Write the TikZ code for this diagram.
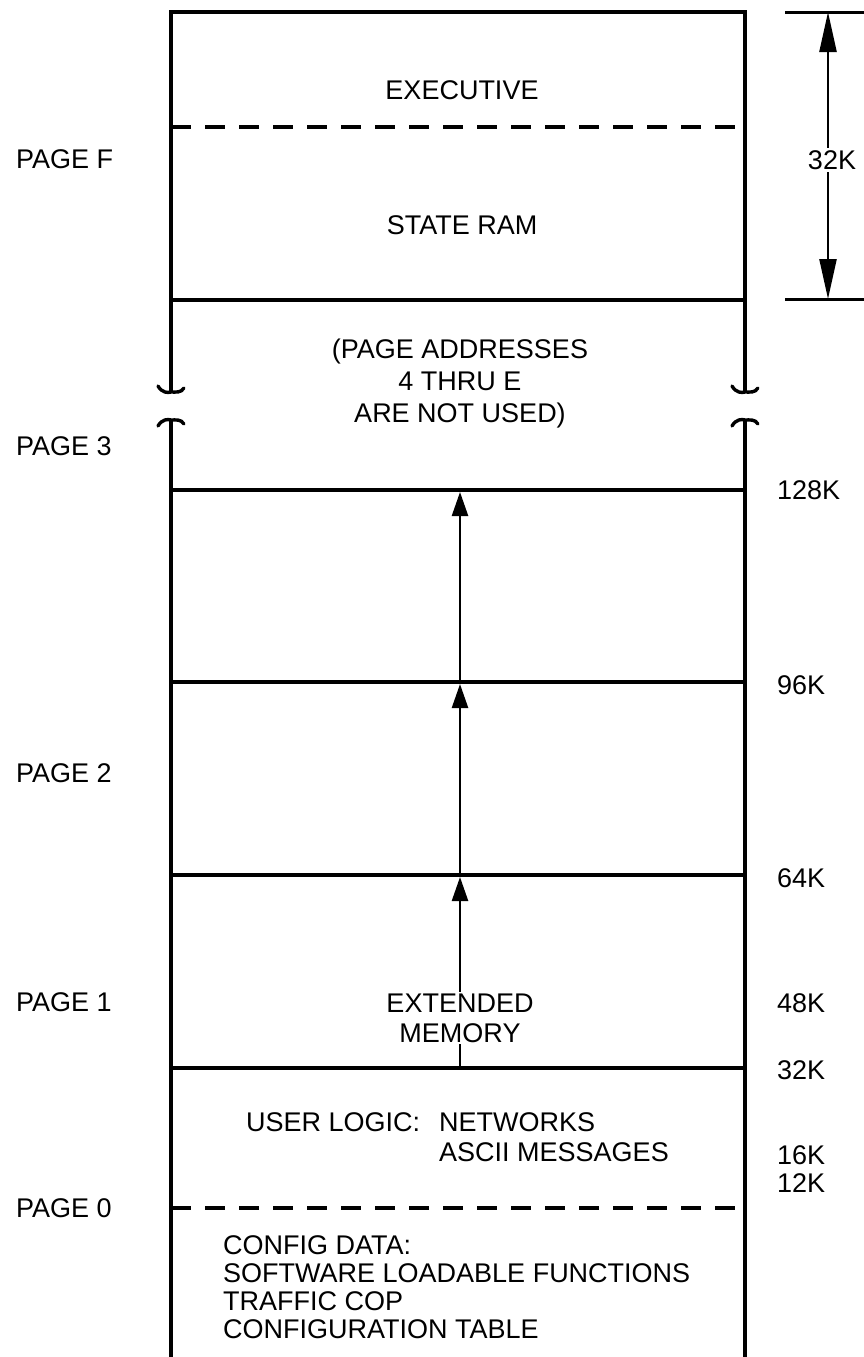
\documentclass[tikz,border=0pt]{standalone}
\usepackage{fontspec}
\setmainfont{Liberation Sans}
\usetikzlibrary{arrows.meta}
\begin{document}
\begin{tikzpicture}[x=1pt,y=-1pt,
  txt/.style={font=\fontsize{27}{32}\selectfont, inner sep=1pt},
  wall/.style={line width=4pt},
  sep/.style={line width=3.6pt},
  dsep/.style={line width=3.2pt, dash pattern=on 20pt off 14pt},
  tick/.style={line width=3pt},
  uparrow/.style={line width=2.4pt, -{Triangle[length=24pt,width=16pt]}},
  dim/.style={line width=2.4pt, {Triangle[length=40pt,width=17pt]}-{Triangle[length=40pt,width=17pt]}},
  brk/.style={line width=3.4pt, line cap=round}]
\useasboundingbox (0,0) rectangle (864,1357);
% coordinates
\coordinate (TL) at (171,12);
\coordinate (TR) at (745,12);
\coordinate (LA) at (171,392);
\coordinate (LB) at (171,420);
\coordinate (RA) at (745,392);
\coordinate (RB) at (745,420);
\coordinate (BL) at (171,1357);
\coordinate (BR) at (745,1357);
% outer walls
\draw[wall] (LA) -- (TL) -- (TR) -- (RA);
\draw[wall] (LB) -- (BL);
\draw[wall] (RB) -- (BR);
% break marks (upper: ends raised, lower: ends lowered)
\foreach \p in {LA,RA}{
  \draw[brk] ([xshift=-13pt,yshift=6pt]\p) .. controls ([xshift=-9pt,yshift=-1pt]\p) and ([xshift=-3pt,yshift=-1pt]\p) .. (\p) .. controls ([xshift=5pt,yshift=0pt]\p) and ([xshift=10pt,yshift=-1pt]\p) .. ([xshift=13pt,yshift=4pt]\p);
}
\foreach \p in {LB,RB}{
  \draw[brk] ([xshift=-13pt,yshift=-6pt]\p) .. controls ([xshift=-9pt,yshift=1pt]\p) and ([xshift=-3pt,yshift=1pt]\p) .. (\p) .. controls ([xshift=5pt,yshift=0pt]\p) and ([xshift=10pt,yshift=1pt]\p) .. ([xshift=13pt,yshift=-4pt]\p);
}
% separators
\draw[dsep] (171,127) -- (745,127);
\draw[sep] (171,300) -- (745,300);
\draw[sep] (171,490) -- (745,490);
\draw[sep] (171,682) -- (745,682);
\draw[sep] (171,875) -- (745,875);
\draw[sep] (171,1068) -- (745,1068);
\draw[dsep] (171,1208) -- (745,1208);
% arrow points
\coordinate (a0) at (460,1068);
\coordinate (a1) at (460,877);
\coordinate (a1b) at (460,875);
\coordinate (a2) at (460,684);
\coordinate (a2b) at (460,682);
\coordinate (a3) at (460,492);
% extended memory arrows
\draw[uparrow] (a0) -- (a1);
\draw[uparrow] (a1b) -- (a2);
\draw[uparrow] (a2b) -- (a3);
\node[txt, fill=white, align=center, inner sep=2pt, font=\fontsize{27}{30}\selectfont] (ext) at (460,1018) {EXTENDED\\MEMORY};
% right dimension
\coordinate (d1a) at (785,12);
\coordinate (d1b) at (864,12);
\coordinate (d2a) at (785,299);
\coordinate (d2b) at (864,299);
\coordinate (dt) at (828,12);
\coordinate (db) at (828,299);
\draw[tick] (d1a) -- (d1b);
\draw[tick] (d2a) -- (d2b);
\draw[dim] (dt) -- (db);
\node[txt, fill=white, inner sep=2pt] (k32top) at (832,160) {32K};
% box texts
\node[txt] (exec) at (462,90) {EXECUTIVE};
\node[txt] (sram) at (462,225) {STATE RAM};
\node[txt, align=center] (unused) at (460,384) {(PAGE ADDRESSES\\4 THRU E\\ARE NOT USED)};
\node[txt, anchor=west] (ul) at (245,1122) {USER LOGIC:};
\node[txt, anchor=west] (nw) at (438,1122) {NETWORKS};
\node[txt, anchor=west] (am) at (438,1152) {ASCII MESSAGES};
\node[txt, anchor=north west, align=left, font=\fontsize{27}{28}\selectfont] (cfg) at (222,1234) {CONFIG DATA:\\SOFTWARE LOADABLE FUNCTIONS\\TRAFFIC COP\\CONFIGURATION TABLE};
% page labels
\node[txt, anchor=west] (pF) at (15,159) {PAGE F};
\node[txt, anchor=west] (p3) at (15,446) {PAGE 3};
\node[txt, anchor=west] (p2) at (15,773) {PAGE 2};
\node[txt, anchor=west] (p1) at (15,1002) {PAGE 1};
\node[txt, anchor=west] (p0) at (15,1208) {PAGE 0};
% size labels
\node[txt, anchor=west] (k128) at (776,490) {128K};
\node[txt, anchor=west] (k96) at (776,685) {96K};
\node[txt, anchor=west] (k64) at (776,878) {64K};
\node[txt, anchor=west] (k48) at (776,1003) {48K};
\node[txt, anchor=west] (k32) at (776,1070) {32K};
\node[txt, anchor=west] (k16) at (776,1155) {16K};
\node[txt, anchor=west] (k12) at (776,1183) {12K};
\end{tikzpicture}
\end{document}
